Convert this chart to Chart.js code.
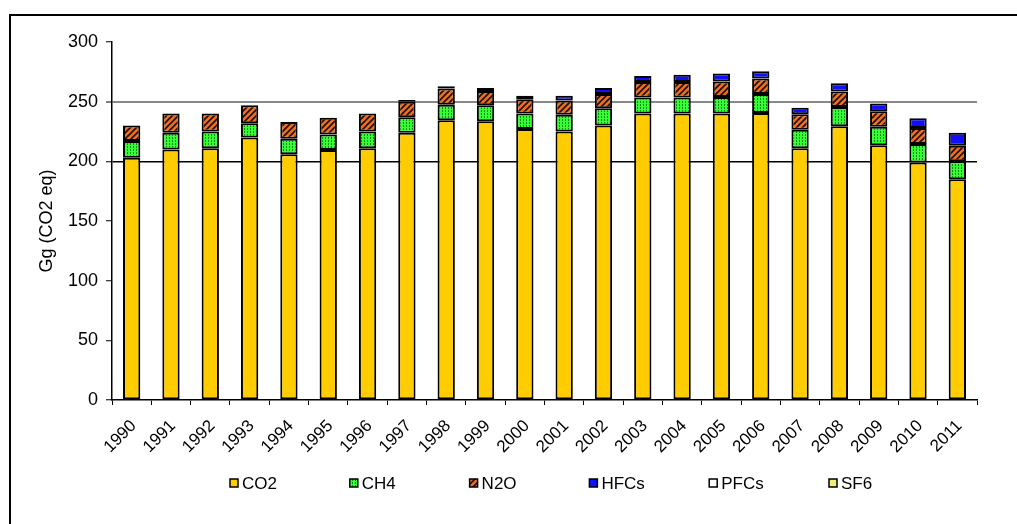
<!DOCTYPE html>
<html>
<head>
<meta charset="utf-8">
<script src="https://cdn.jsdelivr.net/npm/chart.js@4.4.3/dist/chart.umd.min.js"></script>
<style>
  html, body { margin: 0; padding: 0; background: #fff; }
  #wrap { position: relative; width: 1017px; height: 524px; overflow: hidden; }
  #frame { position: absolute; left: 9px; top: 14px; width: 1100px; height: 600px;
           border-left: 2px solid #000; border-top: 2px solid #000; }
  canvas { position: absolute; left: 0; top: 0; }
</style>
</head>
<body>
<div id="wrap">
  <div id="frame"></div>
  <canvas id="chart" width="1017" height="524"></canvas>
</div>
<script>
const years = ["1990","1991","1992","1993","1994","1995","1996","1997","1998","1999","2000",
               "2001","2002","2003","2004","2005","2006","2007","2008","2009","2010","2011"];

const co2  = [203, 210, 211, 220, 206, 209.5, 211, 224, 234.5, 233.5, 227, 225, 230, 240, 240, 240, 240.5, 211, 229.5, 213.5, 199, 185];
const ch4  = [14, 14, 14, 12, 13, 13, 14, 13, 13, 13.5, 13, 14, 14.5, 13.5, 13.5, 14, 16, 15.5, 16, 15.5, 15.5, 15];
const n2o  = [13, 16, 15, 15, 14, 14, 15, 13, 13.5, 12, 12, 12, 12, 13, 13, 13, 13, 13, 13, 13, 13.5, 13];
const hfcs = [0, 0, 0, 0, 0, 0, 0, 1.5, 2, 2.5, 3, 4, 5, 5, 6, 6.5, 6, 5.5, 7, 6.5, 8, 11];
const pfcs = [0, 0, 0, 0, 0, 0, 0, 0, 0, 0, 0, 0, 0, 0, 0, 0, 0, 0, 0, 0, 0, 0];
const sf6  = [0, 0, 0, 0, 0, 0, 0, 0, 0, 0, 0, 0, 0, 0, 0, 0, 0, 0, 0, 0, 0, 0];

const yTicks = [0, 50, 100, 150, 200, 250, 300];

// motifs (pointillé vert, hachures orange)
function dotPattern() {
  const c = document.createElement("canvas");
  c.width = 3; c.height = 3;
  const g = c.getContext("2d");
  g.fillStyle = "#33ff33";
  g.fillRect(0, 0, 3, 3);
  g.fillStyle = "#0e8a0e";
  g.fillRect(1, 0, 1, 1);
  g.fillRect(1, 2, 1, 1);
  return g.createPattern(c, "repeat");
}

function hatchPattern() {
  const c = document.createElement("canvas");
  c.width = 6; c.height = 6;
  const g = c.getContext("2d");
  g.fillStyle = "#ff6a10";
  g.fillRect(0, 0, 6, 6);
  g.strokeStyle = "#111";
  g.lineWidth = 1.6;
  g.beginPath();
  g.moveTo(-3, 3); g.lineTo(3, -3);
  g.moveTo(0, 6); g.lineTo(6, 0);
  g.moveTo(3, 9); g.lineTo(9, 3);
  g.stroke();
  return g.createPattern(c, "repeat");
}

const FONT = '"Liberation Sans", Arial, sans-serif';

// légende à cases égales, comme dans Excel
const legendPlugin = {
  id: "eqLegend",
  afterDraw(chart) {
    const ctx = chart.ctx;
    const x0 = 230, step = 119.8, y = 483;
    chart.data.datasets.forEach((ds, i) => {
      const x = x0 + i * step;
      ctx.save();
      ctx.fillStyle = ds.backgroundColor;
      ctx.fillRect(x, y - 4, 8, 8);
      ctx.strokeStyle = "#000";
      ctx.lineWidth = 1.5;
      ctx.strokeRect(x, y - 4, 8, 8);
      ctx.fillStyle = "#000";
      ctx.font = "17px " + FONT;
      ctx.textBaseline = "middle";
      ctx.fillText(ds.label, x + 12, y + 1);
      ctx.restore();
    });
  },
};

const mk = (label, data, color) => ({
  label,
  data,
  backgroundColor: color,
  borderColor: "#000",
  borderWidth: 2,
  borderSkipped: false,
  categoryPercentage: 1,
  barPercentage: 0.44,
});

new Chart(document.getElementById("chart"), {
  type: "bar",
  data: {
    labels: years,
    datasets: [
      mk("CO2", co2, "#ffcc00"),
      mk("CH4", ch4, dotPattern()),
      mk("N2O", n2o, hatchPattern()),
      mk("HFCs", hfcs, "#1010ff"),
      mk("PFCs", pfcs, "#ffffff"),
      mk("SF6", sf6, "#eef07a"),
    ],
  },
  options: {
    responsive: false,
    animation: false,
    layout: { padding: { left: 0, top: 42, right: 40, bottom: 0 } },
    plugins: {
      legend: { display: false },
      tooltip: { enabled: false },
    },
    scales: {
      x: {
        stacked: true,
        afterFit: (s) => { s.height = 124; },
        grid: {
          offset: true,
          drawOnChartArea: false,
          tickLength: 5,
          tickColor: "#000",
        },
        border: { color: "#000", width: 1.5 },
        ticks: {
          color: "#000",
          font: { family: FONT, size: 17 },
          minRotation: 45,
          maxRotation: 45,
          padding: 11,
          labelOffset: 2,
          autoSkip: false,
        },
      },
      y: {
        stacked: true,
        min: 0,
        max: 300,
        afterFit: (s) => { s.width = 112; },
        afterBuildTicks: (s) => { s.ticks = yTicks.map((v) => ({ value: v })); },
        grid: {
          color: (c) => c.tick && c.tick.value === 250 ? "#888" :
                        c.tick && c.tick.value === 200 ? "#000" : "rgba(0,0,0,0)",
          lineWidth: (c) => c.tick && c.tick.value === 250 ? 2 : 1.5,
          tickColor: "#000",
          tickWidth: 1,
          tickLength: 6,
        },
        border: { color: "#000", width: 1.5 },
        ticks: {
          color: "#000",
          font: { family: FONT, size: 18 },
          padding: 8,
        },
        title: {
          display: true,
          text: "Gg (CO2 eq)",
          color: "#000",
          font: { family: FONT, size: 18 },
          padding: { top: 36, bottom: 0 },
        },
      },
    },
  },
  plugins: [legendPlugin],
});
</script>
</body>
</html>
